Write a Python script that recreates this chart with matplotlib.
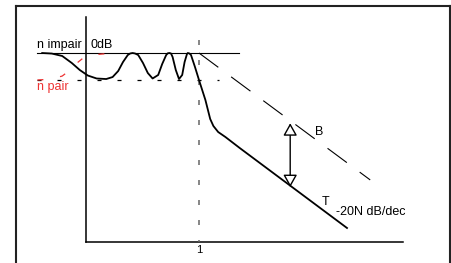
import matplotlib
matplotlib.use("Agg")
import matplotlib.pyplot as plt
from matplotlib.lines import Line2D

plt.rcParams["font.family"] = ["Liberation Sans", "DejaVu Sans"]
plt.rcParams["lines.scale_dashes"] = False

# log10(w) in decades, gain in dB (schematic Bode plot)
t_logw = [-1.96, -1.84, -1.71, -1.59, -1.49, -1.39, -1.28, -1.16, -1.08, -1.01,
          -0.95, -0.89, -0.86, -0.83, -0.80, -0.76, -0.70, -0.64, -0.58, -0.51,
          -0.46, -0.41, -0.39, -0.37, -0.35, -0.33, -0.29, -0.25, -0.21, -0.18,
          -0.15, -0.14, -0.12, -0.10, -0.05, 0.00, 0.08, 0.14, 0.18, 0.24,
          0.33, 0.51, 1.85]
t_gain = [0.0, -0.06, -0.33, -1.11, -1.89, -2.5, -2.83, -2.89, -2.67, -2.0,
          -1.0, -0.22, -0.05, 0.0, -0.05, -0.22, -1.11, -2.22, -2.83, -2.44,
          -1.22, -0.22, -0.03, 0.0, -0.05, -0.44, -1.89, -2.89, -2.44, -1.0,
          -0.1, 0.0, -0.05, -0.22, -1.56, -3.0, -5.22, -7.33, -8.11, -8.78,
          -9.33, -10.56, -19.44]

# even-order start, mostly hidden under the odd-order curve
p_logw = [-2.02, -1.92, -1.80, -1.71, -1.61, -1.51, -1.44, -1.34, -1.21, -1.09]
p_gain = [-3.0, -2.94, -2.78, -2.56, -1.89, -1.0, -0.5, -0.22, -0.11, -0.05]

b_logw = [0.0, 2.14]
b_gain = [0.0, -14.1]

ref_logw = [-2.02, 0.5]
ripple_logw = [-2.02, 0.25]
ripple_db = -3.0
cutoff_logw = 0.0
arrow_logw = 1.14
arrow_gain = [-7.8, -14.9]

axis_logw = [-1.41, 2.55]
axis_gain = [4.0, -21.0]

fig = plt.figure(figsize=(4.51, 2.63), dpi=100)
ax = fig.add_axes([0, 0, 1, 1])
ax.set_xlim(-2.4875, 3.15)
ax.set_ylim(-23.33, 5.89)
ax.axis("off")

# frame
fr = dict(color="#222222", lw=1.5, transform=fig.transFigure)
fig.add_artist(Line2D([0.035, 0.035], [0.0, 0.979], **fr))
fig.add_artist(Line2D([0.035, 0.997], [0.979, 0.979], **fr))
fig.add_artist(Line2D([0.997, 0.997], [0.0, 0.979], **fr))

# axes of the diagram
ax.plot([axis_logw[0]] * 2, axis_gain, color="black", lw=1.1)
ax.plot(axis_logw, [axis_gain[1]] * 2, color="black", lw=1.1)

# 0 dB reference and ripple floor
ax.plot(ref_logw, [0, 0], color="black", lw=0.8)
ax.plot(ripple_logw, [ripple_db] * 2, color="black", lw=0.9, dashes=(2.9, 11.5))
ax.plot([cutoff_logw] * 2, [1.44, axis_gain[1]], color="#666666", lw=1.1,
        dashes=(3.6, 10.8))

# asymptote B
ax.plot(b_logw, b_gain, color="black", lw=0.8, dashes=(17.3, 11.5))

# curves
ax.plot(p_logw, p_gain, color="#ee3333", lw=0.9, dashes=(4.3, 12.2))
ax.plot(t_logw, t_gain, color="black", lw=1.3, solid_joinstyle="round")

# double arrow between B and T
ax.annotate("", xy=(arrow_logw, arrow_gain[0]), xytext=(arrow_logw, arrow_gain[1]),
            arrowprops=dict(arrowstyle="<|-|>,head_length=7.5,head_width=4.2",
                            mutation_scale=1, fc="white", ec="black", lw=1.0,
                            shrinkA=0, shrinkB=0))

fs = 9
ax.text(-2.025, 0.56, "n impair", fontsize=fs, va="baseline")
ax.text(-1.36, 0.56, "0dB", fontsize=fs, va="baseline")
ax.text(-2.025, -4.11, "n pair", fontsize=fs, va="baseline", color="#ee3333")
ax.text(1.45, -9.11, "B", fontsize=fs, va="baseline")
ax.text(1.54, -16.89, "T", fontsize=fs, va="baseline")
ax.text(1.71, -18.0, "-20N dB/dec", fontsize=fs, va="baseline")
ax.text(0.0, -22.22, "1", fontsize=fs - 1, va="baseline", ha="center")

fig.savefig("out.png", dpi=100)
